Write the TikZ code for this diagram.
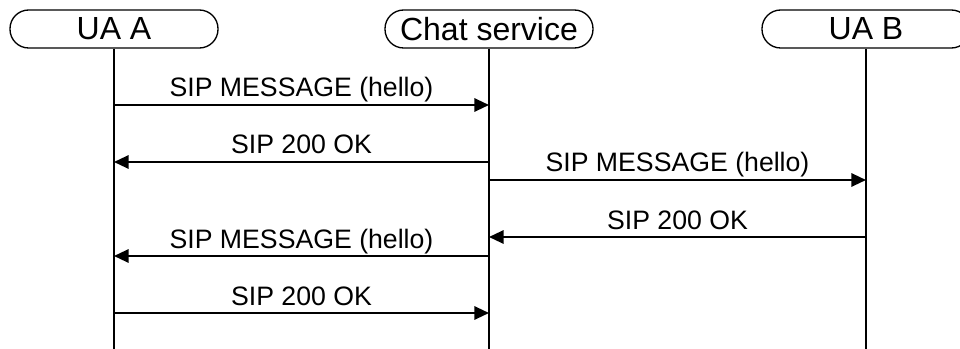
\documentclass[tikz,border=0pt]{standalone}
\usepackage{fontspec}
\setmainfont{Liberation Sans}
\usetikzlibrary{arrows.meta}
\tikzset{
  actor/.style={draw,line width=1pt,rounded corners=14pt,minimum width=156pt,minimum height=28.5pt,inner sep=0pt,font=\fontsize{24}{28}\selectfont},
  life/.style={line width=1.6pt},
  msg/.style={-{Triangle[length=11pt,width=10pt]},line width=1.6pt},
  lbl/.style={midway,anchor=base,yshift=6pt,font=\fontsize{20}{24}\selectfont},
}
\begin{document}
\begin{tikzpicture}[x=0.75pt,y=-0.75pt]
  \useasboundingbox (0,0) rectangle (960,349);
  % participants
  \node[actor] (ua) at (114,29) {UA A};
  \node[actor] (cs) at (489,29) {Chat service};
  \node[actor] (ub) at (866,29) {UA B};
  \coordinate (uaend) at (ua |- 0,352);
  \coordinate (csend) at (cs |- 0,352);
  \coordinate (ubend) at (ub |- 0,352);
  \draw[life] (ua) -- (uaend);
  \draw[life] (cs) -- (csend);
  \draw[life] (ub) -- (ubend);
  % messages
  \draw[msg] (ua |- 0,105) -- (cs |- 0,105) node[lbl]{SIP MESSAGE (hello)};
  \draw[msg] (cs |- 0,162) -- (ua |- 0,162) node[lbl]{SIP 200 OK};
  \draw[msg] (cs |- 0,180) -- (ub |- 0,180) node[lbl]{SIP MESSAGE (hello)};
  \draw[msg] (ub |- 0,237) -- (cs |- 0,237) node[lbl]{SIP 200 OK};
  \draw[msg] (cs |- 0,256) -- (ua |- 0,256) node[lbl]{SIP MESSAGE (hello)};
  \draw[msg] (ua |- 0,313) -- (cs |- 0,313) node[lbl]{SIP 200 OK};
\end{tikzpicture}
\end{document}
